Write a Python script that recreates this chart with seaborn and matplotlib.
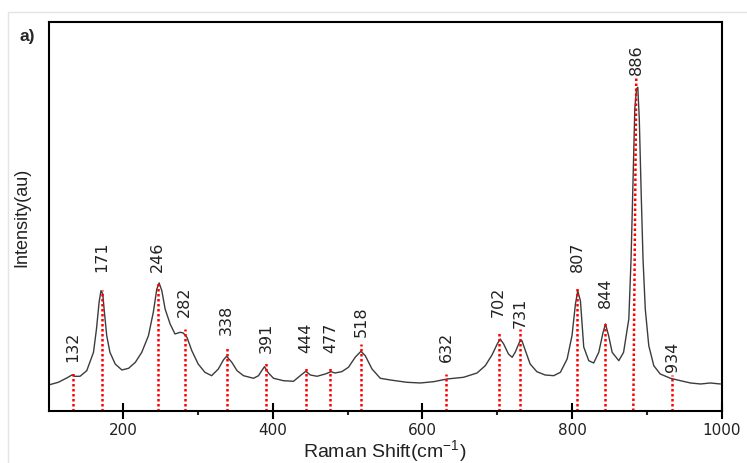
import matplotlib
matplotlib.use("Agg")
import matplotlib.pyplot as plt
from matplotlib.lines import Line2D
from matplotlib.ticker import FixedLocator
import seaborn as sns

# spectrum (Raman shift, intensity in a.u.)
shift = [100, 113, 126, 131, 135, 142, 151, 160, 164, 167.5, 170, 172.4, 174.6, 177.7,
         182, 189, 198, 207, 216, 224.6, 233.5, 240, 244.7, 247.8, 251.4, 255.8, 262.5,
         269, 276, 280, 285, 291.5, 300, 309, 318, 327, 334, 338, 345, 352, 360.6,
         374, 380.7, 385, 388.7, 394, 400.8, 414, 427.5, 436.5, 444, 450, 459, 470,
         477.6, 483, 492, 501, 510, 517.7, 523.5, 532.5, 543.6, 557, 579, 597, 615,
         633, 655, 673, 684, 693, 700, 704, 708.6, 715, 720, 724, 730, 733, 737.7,
         744, 753, 764, 775.5, 784.5, 793.5, 800, 804.6, 807.7, 811.3, 815.7, 822.4,
         829, 835.8, 841.6, 844.8, 849, 853.7, 862.6, 869, 876, 879, 881.8, 884,
         886.3, 888, 890, 892.5, 895, 898, 902.7, 909.4, 918, 931.7, 945, 958.5,
         972, 985, 998.5]
intensity = [26, 28.7, 33.7, 36, 34.7, 34.7, 40.3, 58.7, 82, 108.7, 120.3, 117, 98.7, 75.3,
             58.7, 47, 41, 42.7, 48.7, 58.7, 75.3, 98.7, 122, 128, 120.3, 102, 87,
             77, 78.7, 78, 73.7, 60.3, 47, 38.7, 35.3, 42, 51.3, 54.7, 48.7, 40.3, 35.3,
             32.7, 35.3, 40.3, 44.3, 38, 32.7, 30.3, 29.7, 35.3, 39.7, 36, 34.7, 37,
             39.3, 38, 39.3, 43.7, 53.7, 59.7, 55.3, 42, 32.7, 31, 28.7, 28, 29.3,
             32, 33.7, 38, 45.3, 56, 67, 72, 67, 57, 53.7, 58.7, 69.3, 70.3, 60.3,
             47, 39.3, 36, 35.3, 38.7, 52, 75.3, 107, 120, 110, 64, 50.3,
             48, 58.7, 78.7, 87, 75.3, 58.7, 50.3, 58.7, 92, 152, 235, 302,
             322, 323.7, 292, 218.7, 152, 102, 65.3, 45.3, 37, 32.7, 30.3, 28,
             27, 28, 27]

# marked peaks
peak_pos = [132, 171, 246, 282, 338, 391, 444, 477, 518, 632, 702, 731, 807, 844, 886, 934]
peak_base = [132, 171, 246, 282, 338, 391, 444, 477, 518, 632, 702, 731, 807, 844, 882, 934]
line_top = [39, 121, 128, 82, 64, 50, 45, 45, 67, 37, 79, 82, 125, 89, 335, 36]
label_y = [50, 140, 140, 95, 77, 59, 59, 59, 75, 50, 95, 84, 140, 104, 337, 40]

sns.set_theme(style="ticks")
plt.rcParams["font.family"] = ["DejaVu Sans"]
plt.rcParams["mathtext.fontset"] = "custom"
plt.rcParams["mathtext.rm"] = "Liberation Sans"
plt.rcParams["mathtext.it"] = "Liberation Sans:italic"

fig = plt.figure(figsize=(7.47, 4.64), dpi=100)
ax = fig.add_axes([0.0651, 0.1121, 0.9008, 0.8384])

sns.lineplot(x=shift, y=intensity, ax=ax, color="#3c3c3c", linewidth=1.0,
             estimator=None, sort=False)

for base, pos, top, ly in zip(peak_base, peak_pos, line_top, label_y):
    ax.plot([base, pos], [0, top], color="red", linewidth=1.8, linestyle=(0, (1, 1)))
    ax.text(pos, ly, str(pos), rotation=90, ha="center", va="bottom",
            fontsize=11.5, color="#222222")

ax.set_xlim(100, 1000)
ax.set_ylim(0, 389)
ax.xaxis.set_major_locator(FixedLocator([200, 400, 600, 800, 1000]))
ax.xaxis.set_minor_locator(FixedLocator([300, 500, 700, 900]))
ax.set_yticks([])
ax.tick_params(axis="x", which="major", direction="inout", length=11.5, width=1.5,
               pad=2, labelsize=11, colors="black", labelcolor="#222222")
ax.tick_params(axis="x", which="minor", direction="out", length=3, width=1.5)
for sp in ax.spines.values():
    sp.set_visible(True)
    sp.set_linewidth(1.5)
    sp.set_color("black")

ax.set_xlabel(r"Raman Shift(cm$^{\mathrm{-1}}$)", fontsize=14, family="Liberation Sans",
              color="#222222", labelpad=0)
ax.set_ylabel("Intensity(au)", fontsize=13, family="Liberation Sans", color="#222222")
ax.yaxis.set_label_coords(-0.0276, 0.5)

fig.text(27 / 747, 1 - 37 / 464, "a)", fontsize=12.5, fontweight="bold",
         family="Liberation Sans", ha="center", va="center")

# faint frame of the original panel
fig.add_artist(Line2D([8 / 747, 1], [1 - 13 / 464, 1 - 13 / 464], color="#e4e4e4",
                      linewidth=1, transform=fig.transFigure))
fig.add_artist(Line2D([8 / 747, 8 / 747], [0, 1 - 13 / 464], color="#e4e4e4",
                      linewidth=1, transform=fig.transFigure))

fig.savefig("out.png", dpi=100)
